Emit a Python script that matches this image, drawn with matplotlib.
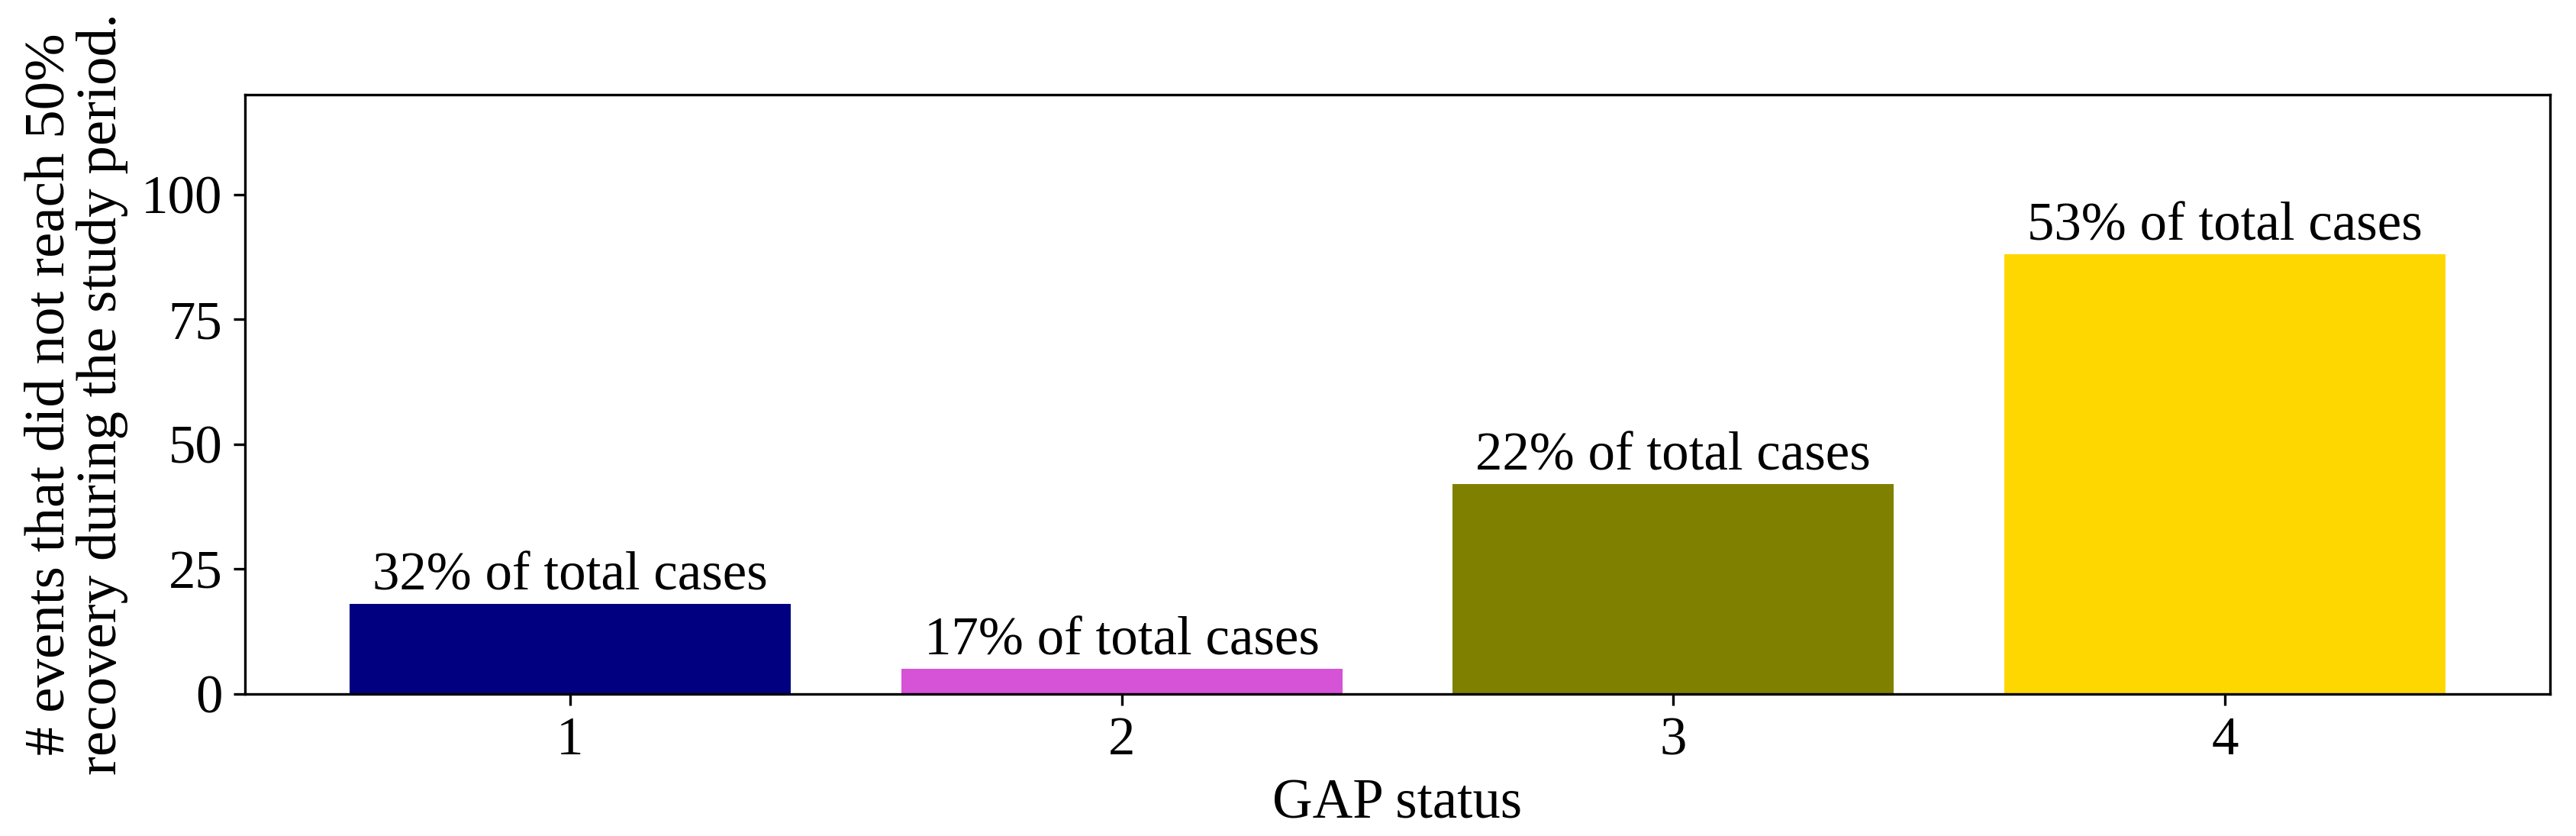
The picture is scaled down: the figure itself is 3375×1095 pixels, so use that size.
import matplotlib
matplotlib.use("Agg")
import matplotlib.pyplot as plt

plt.rcParams["font.family"] = ["Liberation Serif", "DejaVu Serif"]

gap_status = [1, 2, 3, 4]
n_events = [18, 5, 42, 88]
pct_labels = ["32% of total cases", "17% of total cases",
              "22% of total cases", "53% of total cases"]
bar_colors = ["#000080", "#D652D6", "#808000", "#FFD700"]

fig, ax = plt.subplots(figsize=(11.25, 3.65), dpi=300)
bars = ax.bar(gap_status, n_events, width=0.8, color=bar_colors)

for rect, lab in zip(bars, pct_labels):
    ax.text(rect.get_x() + rect.get_width() / 2, rect.get_height() + 0.5, lab,
            ha="center", va="bottom", fontsize=17)

ax.set_ylim(0, 120)
ax.set_yticks([0, 25, 50, 75, 100])
ax.set_xticks(gap_status)
ax.tick_params(labelsize=17)
ax.set_xlabel("GAP status", fontsize=17.5)
ax.set_ylabel("# events that did not reach 50%\nrecovery during the study period.",
              fontsize=18, linespacing=1.0)

fig.subplots_adjust(left=0.095, right=0.990, bottom=0.170, top=0.887)
fig.savefig("out.png", dpi=300)
